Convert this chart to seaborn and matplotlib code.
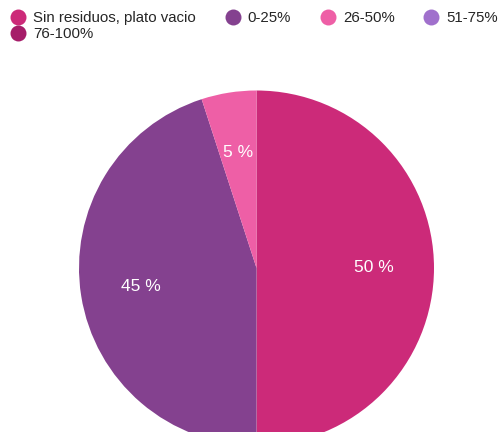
import matplotlib
matplotlib.use("Agg")
import matplotlib.pyplot as plt
import seaborn as sns
from matplotlib.lines import Line2D

categories = ["Sin residuos, plato vacio", "0-25%", "26-50%", "51-75%", "76-100%"]
values = [50, 45, 5, 0, 0]
colors = ["#CC2A79", "#84418F", "#EE5FA6", "#A070CC", "#A61D69"]

sns.set_theme(style="white")
plt.rcParams['font.family'] = ['Liberation Sans', 'DejaVu Sans']

W, H = 500, 432
fig = plt.figure(figsize=(W / 100, H / 100), dpi=100)
ax = fig.add_axes([0, 0, 1, 1])

cx, cy, r = 256.5, H - 268, 177.5

def fmt(p):
    return f"{p:.0f} %" if p >= 0.5 else ""

wedges, texts, autotexts = ax.pie(
    values, colors=sns.color_palette(colors), startangle=90, counterclock=False,
    center=(cx, cy), radius=r, autopct=fmt, pctdistance=0.66,
    wedgeprops=dict(linewidth=0), textprops=dict(color="white", fontsize=12.5))
ax.set_xlim(0, W)
ax.set_ylim(0, H)
ax.set_aspect("equal")
ax.axis("off")

order = [0, 4, 1, 2, 3]
handles = [Line2D([], [], marker="o", linestyle="", markersize=11.5,
                  markerfacecolor=colors[i], markeredgewidth=0) for i in order]
labels = [categories[i] for i in order]
fig.legend(handles, labels, ncol=4, loc="upper left", bbox_to_anchor=(0.002, 0.995),
           frameon=False, fontsize=10.8, handletextpad=0.45, columnspacing=1.9,
           labelspacing=0.15, borderaxespad=0.2, handlelength=1.1)

fig.savefig("out.png", dpi=100)
